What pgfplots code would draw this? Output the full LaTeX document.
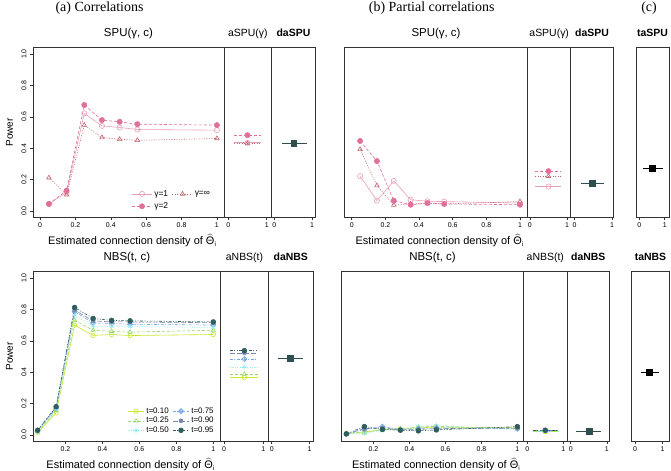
\documentclass[border=0pt]{standalone}
\usepackage{pgfplots}
\pgfplotsset{compat=1.18}
\usepackage{fontspec}
\setmainfont{Liberation Sans}
\newfontfamily\titlefont{Liberation Serif}
\definecolor{g1}{HTML}{E9A0B6}
\definecolor{g2}{HTML}{E0709A}
\definecolor{ginf}{HTML}{C46470}
\definecolor{dslate}{HTML}{2F4F4F}
\definecolor{t10}{HTML}{C8E82C}
\definecolor{t25}{HTML}{96D862}
\definecolor{t50}{HTML}{8AEEF0}
\definecolor{t75}{HTML}{74A8E8}
\definecolor{t90}{HTML}{7A88AE}
\definecolor{t95}{HTML}{2E5E5E}
\pgfdeclareplotmark{diamondplus}{%
  \pgfpathmoveto{\pgfqpoint{\pgfplotmarksize}{0pt}}%
  \pgfpathlineto{\pgfqpoint{0pt}{\pgfplotmarksize}}%
  \pgfpathlineto{\pgfqpoint{-\pgfplotmarksize}{0pt}}%
  \pgfpathlineto{\pgfqpoint{0pt}{-\pgfplotmarksize}}%
  \pgfpathclose
  \pgfpathmoveto{\pgfqpoint{\pgfplotmarksize}{0pt}}%
  \pgfpathlineto{\pgfqpoint{-\pgfplotmarksize}{0pt}}%
  \pgfpathmoveto{\pgfqpoint{0pt}{\pgfplotmarksize}}%
  \pgfpathlineto{\pgfqpoint{0pt}{-\pgfplotmarksize}}%
  \pgfusepathqstroke}
\pgfplotsset{
  rpanel/.style={scale only axis, ymin=-0.04, ymax=1.04,
    axis line style={draw=black!80, line width=0.7bp},
    tick align=outside, xtick pos=bottom, ytick pos=left,
    major tick length=3bp, every tick/.style={black!80, line width=0.5bp},
    ytick=\empty,
    tick label style={font=\fontsize{7}{8}\selectfont},
    xticklabel style={inner sep=1bp, yshift=-1bp},
    /pgf/number format/assume math mode=true, clip=false,
    title style={at={(0.5,1)}, anchor=base, yshift=5bp, font=\fontsize{11.5}{12}\selectfont},
    xlabel style={at={(axis description cs:0.52,0)}, anchor=base, inner sep=0pt, yshift=-27.5bp, font=\fontsize{11}{12}\selectfont},
    mark size=2.6bp, every axis plot/.append style={line width=0.6bp}},
  spanel/.style={rpanel, xmin=-0.1, xmax=1.1, xtick={0,1}, xticklabels={0,1},
    title style={font=\fontsize{10.5}{12}\selectfont}},
  g1s/.style={g1, solid, mark=o, mark options={solid}},
  g2s/.style={g2, dash pattern=on 3bp off 2bp, mark=*, mark options={solid}},
  gis/.style={ginf, dash pattern=on 1bp off 1.5bp, mark=triangle, mark options={solid}},
  t10s/.style={t10, solid, mark=o, mark size=2.2bp, mark options={solid}},
  t25s/.style={t25, dash pattern=on 3bp off 2bp, mark=triangle, mark size=2.4bp, mark options={solid}},
  t50s/.style={t50, dash pattern=on 1bp off 1.5bp, mark=asterisk, mark size=2.4bp, mark options={solid}},
  t75s/.style={t75, dash pattern=on 3bp off 1.5bp on 1bp off 1.5bp, mark=diamondplus, mark size=2.6bp, mark options={solid}},
  t90s/.style={t90, dash pattern=on 5bp off 2bp, mark=oplus*, mark size=2bp, mark options={solid, fill=t90}},
  t95s/.style={t95, dash pattern=on 3bp off 1.5bp on 1bp off 1.5bp on 1bp off 1.5bp, mark=*, mark size=2.4bp, mark options={solid}},
}
\newcommand{\thetahat}{$\widehat{\mbox{Θ}}_{\mbox{\fontsize{6.5}{6.5}\selectfont i}}$}
\begin{document}
\begin{tikzpicture}
\useasboundingbox (0bp,0bp) rectangle (671bp,-471bp);
\node[font=\titlefont\fontsize{14}{16}\selectfont, anchor=base] at (99.5bp,-11bp) {(a) Correlations};
\node[font=\titlefont\fontsize{14}{16}\selectfont, anchor=base] at (431.7bp,-11bp) {(b) Partial correlations};
\node[font=\titlefont\fontsize{14}{16}\selectfont, anchor=base] at (649bp,-11bp) {(c)};

% ---------- top-left ----------
\begin{axis}[rpanel, at={(33bp,-47.7bp)}, anchor=north west, width=191bp, height=169.6bp,
  xmin=-0.04, xmax=1.04, xtick={0,0.2,0.4,0.6,0.8,1}, xticklabels={0,0.2,0.4,0.6,0.8,1},
  ytick={0,0.2,0.4,0.6,0.8,1}, yticklabels={0.0,0.2,0.4,0.6,0.8,1.0},
  yticklabel style={rotate=90, anchor=south},
  title={SPU(γ, c)},
  ylabel={Power}, ylabel style={at={(axis description cs:-0.105,0.5)}, anchor=base, font=\fontsize{10}{12}\selectfont},
  xlabel={Estimated connection density of \thetahat},
  legend columns=2, legend cell align=left,
  legend style={draw=none, fill=none, font=\fontsize{8.5}{9}\selectfont, at={(axis cs:0.99,-0.02)}, anchor=south east,
    /tikz/every even column/.append style={column sep=2bp}, row sep=1bp},
  legend image code/.code={\draw[mark repeat=2,mark phase=2] plot coordinates {(0bp,0bp) (10bp,0bp) (20bp,0bp)};},
]
\addplot[g1s] coordinates {(0.05,0.045)(0.15,0.119)(0.25,0.622)(0.35,0.542)(0.45,0.532)(0.55,0.519)(1,0.515)};
\addlegendentry{γ=1}
\addplot[gis] coordinates {(0.05,0.212)(0.15,0.104)(0.25,0.547)(0.35,0.468)(0.45,0.457)(0.55,0.45)(1,0.462)};
\addlegendentry{γ=∞}
\addplot[g2s] coordinates {(0.05,0.045)(0.15,0.13)(0.25,0.675)(0.35,0.579)(0.45,0.568)(0.55,0.553)(1,0.547)};
\addlegendentry{γ=2}
\end{axis}
\begin{axis}[spanel, at={(224bp,-47.7bp)}, anchor=north west, width=47.7bp, height=169.6bp, xmin=-0.11, xmax=1.13, title={aSPU(γ)}]
\addplot[g1s, mark indices={2}] coordinates {(0.15,0.435)(0.5,0.435)(0.85,0.435)};
\addplot[gis, mark indices={2}] coordinates {(0.15,0.43)(0.5,0.43)(0.85,0.43)};
\addplot[g2s, mark indices={2}] coordinates {(0.15,0.483)(0.5,0.483)(0.85,0.483)};
\end{axis}
\begin{axis}[spanel, at={(271.7bp,-47.7bp)}, anchor=north west, width=43.5bp, height=169.6bp, xmin=-0.07, xmax=1.08, title={\textbf{daSPU}}]
\addplot[dslate, line width=1.2bp, mark=square*, mark size=2.8bp, mark indices={2}] coordinates {(0.2,0.43)(0.52,0.43)(0.86,0.43)};
\end{axis}

% ---------- top-right ----------
\begin{axis}[rpanel, at={(344.3bp,-47.7bp)}, anchor=north west, width=183.4bp, height=169.6bp,
  xmin=-0.044, xmax=1.046, xtick={0,0.2,0.4,0.6,0.8,1}, xticklabels={0,0.2,0.4,0.6,0.8,1},
  title={SPU(γ, c)},
  xlabel={Estimated connection density of \thetahat},
]
\addplot[g1s] coordinates {(0.05,0.222)(0.15,0.066)(0.25,0.192)(0.35,0.072)(0.45,0.062)(0.55,0.06)(1,0.051)};
\addplot[gis] coordinates {(0.05,0.393)(0.15,0.162)(0.25,0.038)(0.35,0.045)(0.45,0.048)(0.55,0.045)(1,0.06)};
\addplot[g2s] coordinates {(0.05,0.446)(0.15,0.318)(0.25,0.066)(0.35,0.04)(0.45,0.051)(0.55,0.045)(1,0.04)};
\end{axis}
\begin{axis}[spanel, at={(527.7bp,-47.7bp)}, anchor=north west, width=43bp, height=169.6bp, xmin=-0.06, xmax=1.1, title={aSPU(γ)}]
\addplot[g1s, mark indices={2}] coordinates {(0.15,0.156)(0.5,0.156)(0.85,0.156)};
\addplot[gis, mark indices={2}] coordinates {(0.15,0.222)(0.5,0.222)(0.85,0.222)};
\addplot[g2s, mark indices={2}] coordinates {(0.15,0.254)(0.5,0.254)(0.85,0.254)};
\end{axis}
\begin{axis}[spanel, at={(570.7bp,-47.7bp)}, anchor=north west, width=42.6bp, height=169.6bp, xmin=-0.1, xmax=1.03, title={\textbf{daSPU}}]
\addplot[dslate, line width=1.2bp, mark=square*, mark size=2.8bp, mark indices={2}] coordinates {(0.16,0.177)(0.47,0.177)(0.79,0.177)};
\end{axis}
\begin{axis}[spanel, at={(636bp,-47.7bp)}, anchor=north west, width=33bp, height=169.6bp, xmin=-0.13, xmax=1.17, title={\textbf{taSPU}}]
\addplot[black, line width=1.2bp, mark=square*, mark size=2.8bp, mark indices={2}] coordinates {(0.15,0.273)(0.53,0.273)(0.92,0.273)};
\end{axis}

% ---------- bottom-left ----------
\begin{axis}[rpanel, at={(33bp,-271.7bp)}, anchor=north west, width=187.7bp, height=169.5bp,
  xmin=0.025, xmax=1.04, xtick={0.2,0.4,0.6,0.8,1}, xticklabels={0.2,0.4,0.6,0.8,1},
  ytick={0,0.2,0.4,0.6,0.8,1}, yticklabels={0.0,0.2,0.4,0.6,0.8,1.0},
  yticklabel style={rotate=90, anchor=south},
  title={NBS(t, c)},
  ylabel={Power}, ylabel style={at={(axis description cs:-0.107,0.5)}, anchor=base, font=\fontsize{10}{12}\selectfont},
  xlabel={Estimated connection density of \thetahat},
  legend columns=2, legend cell align=left,
  legend style={draw=none, fill=none, font=\fontsize{8}{8.5}\selectfont, at={(axis cs:1.03,-0.02)}, anchor=south east,
    /tikz/every even column/.append style={column sep=2bp}, row sep=-1.5bp},
  legend image code/.code={\draw[mark repeat=2,mark phase=2] plot coordinates {(0bp,0bp) (8bp,0bp) (16bp,0bp)};},
]
\addplot[t10s] coordinates {(0.05,0.015)(0.15,0.14)(0.25,0.70)(0.35,0.634)(0.45,0.64)(0.55,0.633)(1,0.64)};
\addlegendentry{t=0.10}
\addplot[t75s] coordinates {(0.05,0.025)(0.15,0.17)(0.25,0.785)(0.35,0.714)(0.45,0.71)(0.55,0.705)(1,0.70)};
\addlegendentry{t=0.75}
\addplot[t25s] coordinates {(0.05,0.02)(0.15,0.155)(0.25,0.73)(0.35,0.667)(0.45,0.66)(0.55,0.655)(1,0.667)};
\addlegendentry{t=0.25}
\addplot[t90s] coordinates {(0.05,0.028)(0.15,0.175)(0.25,0.795)(0.35,0.727)(0.45,0.72)(0.55,0.72)(1,0.715)};
\addlegendentry{t=0.90}
\addplot[t50s] coordinates {(0.05,0.022)(0.15,0.165)(0.25,0.763)(0.35,0.694)(0.45,0.69)(0.55,0.69)(1,0.685)};
\addlegendentry{t=0.50}
\addplot[t95s] coordinates {(0.05,0.03)(0.15,0.18)(0.25,0.812)(0.35,0.742)(0.45,0.73)(0.55,0.727)(1,0.72)};
\addlegendentry{t=0.95}
\end{axis}
\begin{axis}[spanel, at={(220.7bp,-271.7bp)}, anchor=north west, width=47.6bp, height=169.5bp, xmin=-0.084, xmax=1.13, title={aNBS(t)}]
\addplot[t10s, mark indices={2}] coordinates {(0.15,0.365)(0.52,0.365)(0.86,0.365)};
\addplot[t25s, mark indices={2}] coordinates {(0.15,0.387)(0.52,0.387)(0.86,0.387)};
\addplot[t50s, mark indices={2}] coordinates {(0.15,0.434)(0.52,0.434)(0.86,0.434)};
\addplot[t75s, mark indices={2}] coordinates {(0.15,0.484)(0.52,0.484)(0.86,0.484)};
\addplot[t90s, mark indices={2}] coordinates {(0.15,0.523)(0.52,0.523)(0.86,0.523)};
\addplot[t95s, mark indices={2}] coordinates {(0.15,0.537)(0.52,0.537)(0.86,0.537)};
\end{axis}
\begin{axis}[spanel, at={(268.3bp,-271.7bp)}, anchor=north west, width=45bp, height=169.5bp, xmin=-0.09, xmax=1.1, title={\textbf{daNBS}}]
\addplot[dslate, line width=1.2bp, mark=square*, mark size=2.8bp, mark indices={2}] coordinates {(0.17,0.488)(0.49,0.488)(0.83,0.488)};
\end{axis}

% ---------- bottom-right ----------
\begin{axis}[rpanel, at={(341.7bp,-271.7bp)}, anchor=north west, width=181.6bp, height=169.5bp,
  xmin=0.024, xmax=1.033, xtick={0.2,0.4,0.6,0.8,1}, xticklabels={0.2,0.4,0.6,0.8,1},
  title={NBS(t, c)},
  xlabel={Estimated connection density of \thetahat},
]
\addplot[t10s] coordinates {(0.05,0.01)(0.15,0.015)(0.25,0.035)(0.35,0.04)(0.45,0.045)(0.55,0.05)(1,0.045)};
\addplot[t25s] coordinates {(0.05,0.008)(0.15,0.02)(0.25,0.032)(0.35,0.038)(0.45,0.05)(0.55,0.055)(1,0.04)};
\addplot[t50s] coordinates {(0.05,0.005)(0.15,0.01)(0.25,0.03)(0.35,0.035)(0.45,0.055)(0.55,0.06)(1,0.035)};
\addplot[t75s] coordinates {(0.05,0.005)(0.15,0.035)(0.25,0.053)(0.35,0.035)(0.45,0.04)(0.55,0.045)(1,0.04)};
\addplot[t90s] coordinates {(0.05,0.006)(0.15,0.04)(0.25,0.045)(0.35,0.032)(0.45,0.035)(0.55,0.04)(1,0.045)};
\addplot[t95s] coordinates {(0.05,0.007)(0.15,0.053)(0.25,0.035)(0.35,0.03)(0.45,0.026)(0.55,0.032)(1,0.053)};
\end{axis}
\begin{axis}[spanel, at={(523.3bp,-271.7bp)}, anchor=north west, width=44bp, height=169.5bp, xmin=-0.11, xmax=1.11, title={aNBS(t)}]
\addplot[t10s, mark indices={2}] coordinates {(0.15,0.02)(0.5,0.02)(0.85,0.02)};
\addplot[t25s, mark indices={2}] coordinates {(0.15,0.022)(0.5,0.022)(0.85,0.022)};
\addplot[t50s, mark indices={2}] coordinates {(0.15,0.025)(0.5,0.025)(0.85,0.025)};
\addplot[t75s, mark indices={2}] coordinates {(0.15,0.027)(0.5,0.027)(0.85,0.027)};
\addplot[t90s, mark indices={2}] coordinates {(0.15,0.028)(0.5,0.028)(0.85,0.028)};
\addplot[t95s, mark indices={2}] coordinates {(0.15,0.03)(0.5,0.03)(0.85,0.03)};
\end{axis}
\begin{axis}[spanel, at={(567.3bp,-271.7bp)}, anchor=north west, width=42bp, height=169.5bp, xmin=-0.094, xmax=1.07, title={\textbf{daNBS}}]
\addplot[dslate, line width=1.2bp, mark=square*, mark size=2.8bp, mark indices={2}] coordinates {(0.15,0.022)(0.52,0.022)(0.85,0.022)};
\end{axis}
\begin{axis}[spanel, at={(631.7bp,-271.7bp)}, anchor=north west, width=37.6bp, height=169.5bp, xmin=-0.12, xmax=1.24, title={\textbf{taNBS}}]
\addplot[black, line width=1.2bp, mark=square*, mark size=2.8bp, mark indices={2}] coordinates {(0.2,0.397)(0.52,0.397)(0.85,0.397)};
\end{axis}
\end{tikzpicture}
\end{document}
